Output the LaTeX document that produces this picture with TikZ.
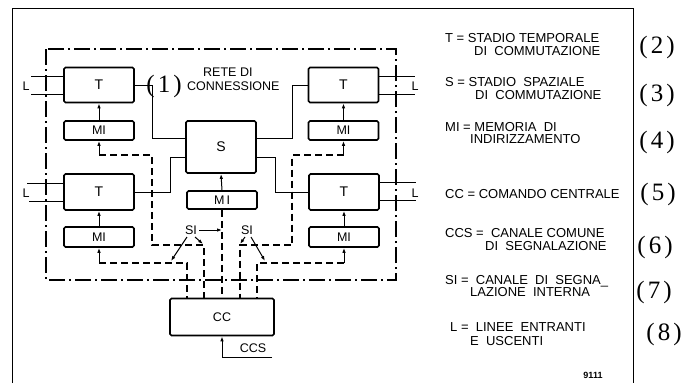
\documentclass[tikz,border=0pt]{standalone}
\usepackage{fontspec}
\newfontfamily\labfont{Liberation Sans}
\newfontfamily\numfont{Liberation Serif}
\usetikzlibrary{arrows.meta}
\begin{document}
\begin{tikzpicture}[x=1pt,y=-1pt,
  lab/.style={font=\labfont\fontsize{12.5}{12.5}\selectfont},
  blk/.style={draw,line width=1.7pt,rounded corners=1.5pt,inner sep=0pt,lab},
  tbox/.style={blk,minimum width=70pt,minimum height=35pt},
  mbox/.style={blk,minimum width=70pt,minimum height=19pt},
  conn/.style={line width=1pt},
  dsh/.style={line width=1.1pt,dash pattern=on 7pt off 4pt},
  arr/.style={line width=1pt,-{Latex[length=5pt,width=3.5pt]}},
  num/.style={font=\numfont\fontsize{25}{25}\selectfont,inner sep=0pt},
  leg/.style={font=\labfont\fontsize{13}{13}\selectfont,anchor=base west,inner sep=0pt},
]
\useasboundingbox (0,0) rectangle (688,383);
% outer frame
\draw[line width=1pt] (12,383) -- (12,8) -- (633,8) -- (633,383);
% switching network boundary
\draw[line width=1.3pt,dash pattern=on 16pt off 4pt on 2pt off 4pt] (46,49) rectangle (396,280);

% blocks
\node[tbox,font=\labfont\fontsize{14}{14}\selectfont] (T1) at (99,85) {T};
\node[mbox] (MI1) at (99,130.5) {MI};
\node[tbox,minimum height=36pt,font=\labfont\fontsize{14}{14}\selectfont] (T3) at (99,192) {T};
\node[mbox,minimum height=20pt] (MI3) at (99,237) {MI};
\node[tbox,font=\labfont\fontsize{14}{14}\selectfont] (T2) at (343.5,85) {T};
\node[mbox] (MI2) at (343.5,130.5) {MI};
\node[tbox,minimum height=36pt,font=\labfont\fontsize{14}{14}\selectfont] (T4) at (344,192) {T};
\node[mbox,minimum height=20pt] (MI4) at (344,237) {MI};
\node[blk,minimum width=70pt,minimum height=52pt,font=\labfont\fontsize{14}{14}\selectfont] (S) at (221,147) {S};
\node[mbox,minimum height=18pt] (MIc) at (222,200) {M\,I};
\node[blk,minimum width=104pt,minimum height=37pt] (CC) at (222,317) {CC};

% solid connections T - S
\draw[conn] (T1.east) -| (152,138) -- ([yshift=9pt]S.west);
\draw[conn] ([yshift=-10pt]S.west) -| (170,192) -- (T3.east);
\draw[conn] ([yshift=9pt]S.east) -| (292,85) -- (T2.west);
\draw[conn] ([yshift=-10pt]S.east) -| (275,192) -- (T4.west);

% lines L
\draw[conn] ([yshift=9pt]T1.west) -- ++(-32,0);
\draw[conn] ([yshift=-9pt]T1.west) -- ++(-32,0);
\draw[conn] ([yshift=9pt]T3.west) -- ++(-36,0);
\draw[conn] ([yshift=-9pt]T3.west) -- ++(-34,0);
\draw[conn] ([yshift=9pt]T2.east) -- ++(36,0);
\draw[conn] ([yshift=-9pt]T2.east) -- ++(36,0);
\draw[conn] ([yshift=10pt]T4.east) -- ++(36,0);
\draw[conn] ([yshift=-8pt]T4.east) -- ++(36,0);
\node[lab,inner sep=0pt] (L1) at (26,86) {L};
\node[lab,inner sep=0pt] (L3) at (26,193) {L};
\node[lab,inner sep=0pt] (L2) at (415,86) {L};
\node[lab,inner sep=0pt] (L4) at (415,193) {L};

% MI -> T arrows
\draw[arr] (MI1.north) -- (T1.south);
\draw[arr] (MI3.north) -- (T3.south);
\draw[arr] (MI2.north) -- (T2.south);
\draw[arr] (MI4.north) -- (T4.south);
\draw[arr] (MIc.north) -- (S.south);

% signalling stubs and dashed paths to CC
\coordinate (d1) at (99,155);
\coordinate (d3) at (99,263);
\coordinate (d2) at (343.5,155);
\coordinate (d4) at (344,263);
\draw[arr] (d1) -- (MI1.south);
\draw[arr] (d3) -- (MI3.south);
\draw[arr] (d2) -- (MI2.south);
\draw[arr] (d4) -- (MI4.south);
\draw[dsh] (d1) -| (152,245) -| ([xshift=-18pt]CC.north);
\draw[dsh] (d3) -| ([xshift=-35pt]CC.north);
\draw[dsh] (d2) -| (292,245) -| ([xshift=18pt]CC.north);
\draw[dsh] (d4) -| ([xshift=35pt]CC.north);
\draw[dsh] (MIc.south) -- (CC.north);

% SI labels and arrows
\node[lab,inner sep=0pt] (SIl) at (191,230) {SI};
\node[lab,inner sep=0pt] (SIr) at (247,230) {SI};
\coordinate (m) at (222,230);
\draw[arr] (SIl.east) ++(2,0) -- (m);
\draw[arr] (187,237) -- (171,261);
\draw[arr] (195,237) -- (203,244);
\draw[arr] (245,237) -- (240,244);
\draw[arr] (251,237) -- (265,261);

% CCS
\coordinate (ccs) at (272,357);
\draw[arr] (ccs) -| (CC.south);
\node[lab,inner sep=0pt] (CCSl) at (253,348) {CCS};

% RETE DI CONNESSIONE
\node[lab,anchor=west,inner sep=0pt] (rete) at (203,72) {RETE DI};
\node[lab,anchor=west,inner sep=0pt] (conn) at (187,86) {CONNESSIONE};
\node[num] (n1) at (164,86) {(\kern3pt1\kern3pt)};

% legend
\node[leg] at (445,42) {T = STADIO TEMPORALE};
\node[leg] at (474,55) {DI \ COMMUTAZIONE};
\node[leg] at (445,86) {S = STADIO \ SPAZIALE};
\node[leg] at (475,99) {DI \ COMMUTAZIONE};
\node[leg] at (445,131) {MI = MEMORIA \ DI};
\node[leg] at (470,143) {INDIRIZZAMENTO};
\node[leg] at (445,198) {CC = COMANDO CENTRALE};
\node[leg] at (445,237) {CCS = \ CANALE COMUNE};
\node[leg] at (485,250) {DI \ SEGNALAZIONE};
\node[leg] at (445,284) {SI = \ CANALE \ DI \ SEGNA\_};
\node[leg] at (470,296) {LAZIONE \ INTERNA};
\node[leg] at (450,331) {L = \ LINEE \ ENTRANTI};
\node[leg] at (470,345) {E \ USCENTI};
\node[font=\labfont\bfseries\fontsize{9}{9}\selectfont,inner sep=0pt] at (593,375) {9111};

\node[num] at (657,47) {(\kern3pt2\kern3pt)};
\node[num] at (657,95) {(\kern3pt3\kern3pt)};
\node[num] at (657,142) {(\kern3pt4\kern3pt)};
\node[num] at (658,194) {(\kern3pt5\kern3pt)};
\node[num] at (655,247) {(\kern3pt6\kern3pt)};
\node[num] at (654,292) {(\kern3pt7\kern3pt)};
\node[num] at (664,334) {(\kern3pt8\kern3pt)};
\end{tikzpicture}
\end{document}
